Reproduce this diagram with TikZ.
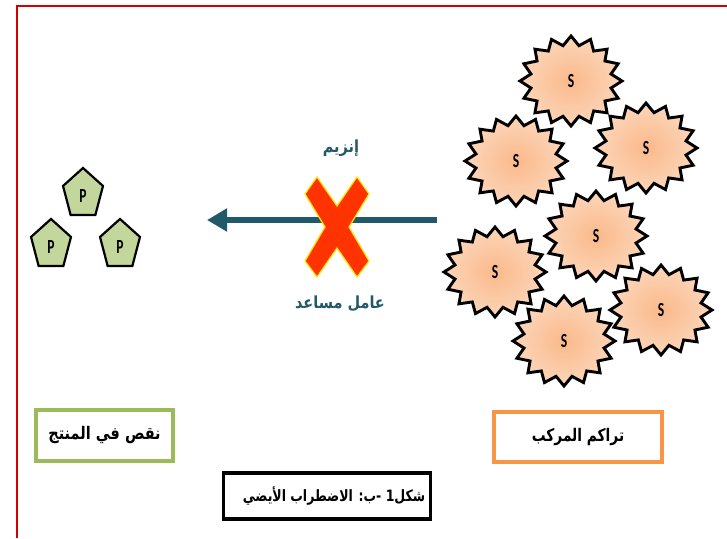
\documentclass[tikz,border=0pt]{standalone}
\usepackage{fontspec}
\usetikzlibrary{arrows.meta}
\TeXXeTstate=1
\newfontfamily\arabicfont[Script=Arabic]{DejaVu Sans}
\newfontfamily\lettfont{Carlito}
\definecolor{framered}{RGB}{210,0,0}
\definecolor{darkteal}{RGB}{33,89,104}
\definecolor{starin}{RGB}{250,185,138}
\definecolor{starout}{RGB}{254,238,226}
\definecolor{pgreen}{RGB}{195,214,155}
\definecolor{gbox}{RGB}{155,187,89}
\definecolor{obox}{RGB}{247,150,70}
\definecolor{xred}{RGB}{255,51,0}
\definecolor{xyel}{RGB}{255,230,0}
\pgfdeclareradialshading{starshade}{\pgfpoint{0bp}{0bp}}{color(0bp)=(starin); color(46bp)=(starout); color(50bp)=(starout)}
\tikzset{
  starpath/.style={shading=starshade, draw=black, line width=2.9pt, line join=miter, miter limit=10},
  pentpath/.style={fill=pgreen, draw=black, line width=2.2pt, line join=miter},
  lett/.style={font=\lettfont\bfseries\fontsize{20}{22}\selectfont, inner sep=0pt},
  arlabel/.style={font=\arabicfont\bfseries\fontsize{14.5}{17}\selectfont, inner sep=0pt},
  boxlabel/.style={font=\arabicfont\bfseries\fontsize{14.5}{18}\selectfont, inner sep=0pt},
  caplabel/.style={font=\arabicfont\bfseries\fontsize{12.5}{15}\selectfont, inner sep=0pt},
}
\begin{document}
\begin{tikzpicture}[x=1pt,y=-1pt]
\useasboundingbox (0,0) rectangle (727,538);
% frame
\draw[framered, line width=2.6pt] (727,6) -- (17,6) -- (17,538);
% stars
\foreach \cx/\cy/\n in {571/81/1, 516/161/2, 646/148/3, 596/236/4, 495/272/5, 661/310/6, 564/341/7} {
  \shadedraw[starpath, shift={(\cx,\cy)}] plot[samples=33, domain=0:32, variable=\k]
     ({51*(mod(round(\k),2)<0.5?1:0.8)*cos(90+\k*11.25)}, {45*(mod(round(\k),2)<0.5?1:0.8)*sin(90+\k*11.25)}) -- cycle;
  \node[lett] (s\n) at (\cx,\cy) {\scalebox{0.68}[1]{S}};
}
% pentagons
\foreach \cx/\cy/\n in {83/194/1, 51/245/2, 120/245/3} {
  \draw[pentpath, shift={(\cx,\cy)}] plot[samples=6, domain=0:5, variable=\k]
     ({21*cos(90+72*\k)}, {-26*sin(90+72*\k)}) -- cycle;
  \node[lett] (p\n) at (\cx,\cy+2) {\scalebox{0.68}[1]{P}};
}
% arrow
\coordinate (arrowstart) at (437,220);
\coordinate (arrowend) at (207,220);
\draw[darkteal, line width=6.5pt, -{Triangle[length=20pt,width=22pt]}] (arrowstart) -- (arrowend);
% cross
\draw[xyel, fill=xred, line width=1.2pt, line join=miter]
  (305,194) -- (317,177) -- (337,206) -- (357,177) -- (369,194) -- (349,227)
  -- (369,261) -- (357,277) -- (337,248) -- (317,277) -- (305,261) -- (325,227) -- cycle;
% labels
\node[arlabel, darkteal] (enz) at (341,148) {\scalebox{1}[1.15]{\beginR إنزيم\endR}};
\node[arlabel, darkteal] (cof) at (340,304) {\scalebox{1}[1.15]{\beginR عامل مساعد\endR}};
% boxes
\node[boxlabel, draw=gbox, line width=4pt, minimum width=137pt, minimum height=51pt] (prod) at (104.5,435.5) {\scalebox{1}[1.2]{\beginR نقص في المنتج\endR}};
\node[boxlabel, draw=obox, line width=4pt, minimum width=168pt, minimum height=50pt] (acc) at (578,437) {\scalebox{0.95}[1.2]{\beginR تراكم المركب\endR}};
\node[draw=black, line width=3.5pt, minimum width=207pt, minimum height=46pt, inner sep=0pt] (cap) at (327,496) {};
\node[caplabel] (captext) at (334,496) {\scalebox{1}[1.25]{\beginR شكل1 -ب: الاضطراب الأيضي\endR}};
\end{tikzpicture}
\end{document}
